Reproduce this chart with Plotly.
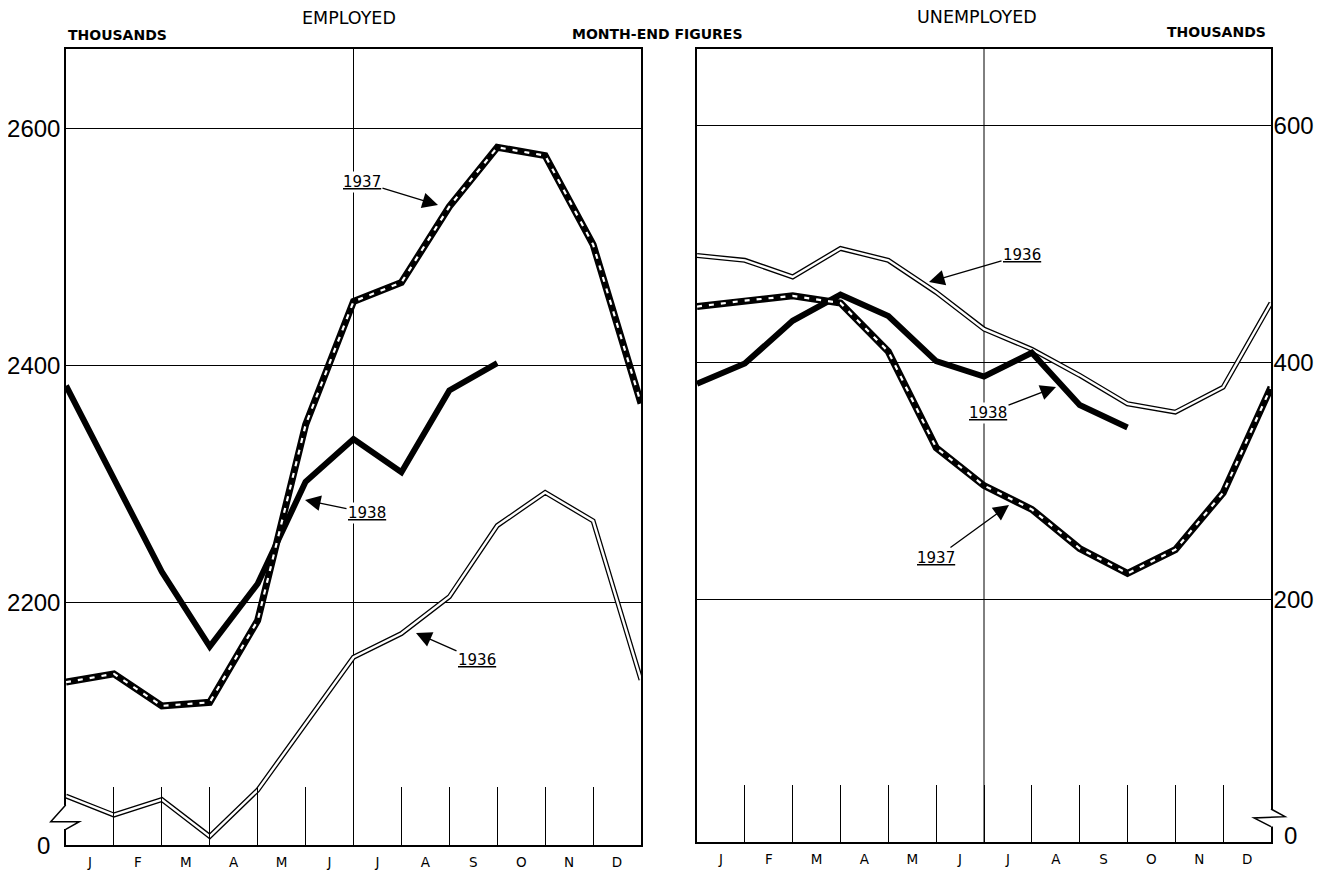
import plotly.graph_objects as go

# ---------------- data (month-end figures, thousands) ----------------
month_labels = ["J", "F", "M", "A", "M", "J", "J", "A", "S", "O", "N", "D"]
# index 0 = end of previous December, 1..12 = end of Jan..Dec
month_end_idx = list(range(13))

emp_1936 = [2037, 2021, 2034, 2003, 2042, 2098, 2154, 2174, 2205, 2265, 2293, 2269, 2135]
emp_1937 = [2133, 2140, 2113, 2116, 2185, 2350, 2454, 2470, 2534, 2584, 2577, 2502, 2368]
emp_1938 = [2383, 2305, 2226, 2163, 2216, 2302, 2338, 2310, 2379, 2402]

unemp_1936 = [490, 486, 472, 496, 486, 459, 428, 411, 389, 365, 358, 379, 450]
unemp_1937 = [447, 452, 456, 450, 409, 328, 296, 276, 243, 222, 242, 290, 379]
unemp_1938 = [382, 399, 435, 457, 439, 401, 388, 408, 364, 345]

emp_ticks = [2200, 2400, 2600]
unemp_ticks = [200, 400, 600]

# ---------------- helpers ----------------
OFF = 8                      # page body margin
W, H = 1327 - OFF, 870 - OFF


def px(x):
    return (x - OFF) / W


def py(y):
    return 1 - (y - OFF) / H


NUMF = "Liberation Sans, Arial, sans-serif"
LETTER = "DejaVu Sans, Liberation Sans, sans-serif"

fig = go.Figure()


def add_1936(xa, ya, ys):
    xs = month_end_idx[:len(ys)]
    fig.add_trace(go.Scatter(x=xs, y=ys, xaxis=xa, yaxis=ya, mode="lines",
                             line=dict(color="black", width=5), hoverinfo="skip"))
    fig.add_trace(go.Scatter(x=xs, y=ys, xaxis=xa, yaxis=ya, mode="lines",
                             line=dict(color="white", width=2.4), hoverinfo="skip"))


def add_1937(xa, ya, ys):
    xs = month_end_idx[:len(ys)]
    fig.add_trace(go.Scatter(x=xs, y=ys, xaxis=xa, yaxis=ya, mode="lines",
                             line=dict(color="black", width=7), hoverinfo="skip"))
    fig.add_trace(go.Scatter(x=xs, y=ys, xaxis=xa, yaxis=ya, mode="lines",
                             line=dict(color="white", width=2.2, dash="5px,7px"),
                             hoverinfo="skip"))


def add_1938(xa, ya, ys):
    xs = month_end_idx[:len(ys)]
    fig.add_trace(go.Scatter(x=xs, y=ys, xaxis=xa, yaxis=ya, mode="lines",
                             line=dict(color="black", width=6), hoverinfo="skip"))


# left: employed
add_1936("x", "y", emp_1936)
add_1938("x", "y", emp_1938)
add_1937("x", "y", emp_1937)
# right: unemployed
add_1936("x2", "y2", unemp_1936)
add_1938("x2", "y2", unemp_1938)
add_1937("x2", "y2", unemp_1937)

month_centers = [i + 0.5 for i in range(12)]


def xaxis_cfg(domain, anchor, ticklen):
    return dict(domain=domain, anchor=anchor, range=[0, 12], fixedrange=True,
                tickmode="array", tickvals=month_centers, ticktext=month_labels,
                ticks="", showgrid=False, zeroline=False,
                showline=True, linecolor="black", linewidth=1.5, mirror=True,
                tickfont=dict(family=LETTER, size=13.5, color="black"),
                ticklabelstandoff=4,
                minor=dict(tickmode="array", tickvals=list(range(1, 12)),
                           ticks="inside", ticklen=ticklen, tickwidth=1,
                           tickcolor="black", showgrid=False),
                automargin=False)


def yaxis_cfg(domain, anchor, rng, tickvals, side, standoff):
    return dict(domain=domain, anchor=anchor, range=rng, fixedrange=True,
                tickmode="array", tickvals=tickvals,
                ticktext=[str(v) for v in tickvals], side=side,
                ticks="", showgrid=True, gridcolor="black", gridwidth=1,
                zeroline=False, showline=True, linecolor="black", linewidth=1.5,
                mirror=True, tickfont=dict(family=NUMF, size=24, color="black"),
                ticklabelstandoff=standoff, automargin=False)


fig.update_layout(
    width=W, height=H,
    margin=dict(l=0, r=0, t=0, b=0),
    paper_bgcolor="white", plot_bgcolor="white",
    showlegend=False,
    xaxis=xaxis_cfg([px(66), px(641)], "y", 58),
    yaxis=yaxis_cfg([py(845), py(48.5)], "x", [1995.7, 2667.3], emp_ticks, "left", -1),
    xaxis2=xaxis_cfg([px(697), px(1271)], "y2", 57),
    yaxis2=yaxis_cfg([py(842), py(48.5)], "x2", [-4.5, 664.6], unemp_ticks, "right", -4),
)

# centre (mid-year) vertical rules
for xr, yr in (("x", "y domain"), ("x2", "y2 domain")):
    fig.add_shape(type="line", xref=xr, yref=yr, x0=6, x1=6, y0=0, y1=1,
                  line=dict(color="black", width=1), layer="below")

# axis-break symbols
fig.add_shape(type="rect", xref="paper", yref="paper",
              x0=px(63.5), x1=px(68), y0=py(829), y1=py(805.5),
              fillcolor="white", line=dict(width=0), layer="above")
fig.add_shape(type="path", xref="paper", yref="paper",
              path=(f"M {px(65.7)},{py(805)} L {px(50.7)},{py(821.7)} "
                    f"L {px(79.3)},{py(821.7)} L {px(65.7)},{py(829.3)}"),
              line=dict(color="black", width=1.5), layer="above")
fig.add_shape(type="rect", xref="paper", yref="paper",
              x0=px(1268.8), x1=px(1273.5), y0=py(826.5), y1=py(809.5),
              fillcolor="white", line=dict(width=0), layer="above")
fig.add_shape(type="path", xref="paper", yref="paper",
              path=(f"M {px(1271)},{py(809)} L {px(1285)},{py(816.7)} "
                    f"L {px(1254)},{py(818)} L {px(1271)},{py(826.7)}"),
              line=dict(color="black", width=1.5), layer="above")

# zero labels at the broken axes
fig.add_annotation(text="0", xref="paper", yref="paper", x=px(43), y=py(845),
                   xanchor="center", yanchor="middle", showarrow=False,
                   font=dict(family=NUMF, size=24, color="black"))
fig.add_annotation(text="0", xref="paper", yref="paper", x=px(1290), y=py(835),
                   xanchor="center", yanchor="middle", showarrow=False,
                   font=dict(family=NUMF, size=24, color="black"))

# headings
heads = [
    ("EMPLOYED", 349, 18.5, "center", 17.5, "normal"),
    ("UNEMPLOYED", 977, 17, "center", 17.5, "normal"),
    ("THOUSANDS", 66, 35, "left", 14, "bold"),
    ("MONTH-END FIGURES", 657, 34, "center", 14, "bold"),
    ("THOUSANDS", 1268, 32, "right", 14, "bold"),
]
for txt, x, y, anc, size, weight in heads:
    fig.add_annotation(text=txt, xref="paper", yref="paper", x=px(x), y=py(y),
                       xanchor=anc, yanchor="middle", showarrow=False,
                       font=dict(family=LETTER, size=size, color="black", weight=weight))

# year labels with arrows (tip pixel, offset to label centre)
year_labels = [
    ("1937", 438, 205, -76, -23),
    ("1938", 305, 500, 62, 13),
    ("1936", 416, 633, 61, 27),
    ("1936", 929, 282, 93, -27),
    ("1938", 1056, 387, -68, 26),
    ("1937", 1009, 505, -73, 53),
]
for txt, tx, ty, ax, ay in year_labels:
    fig.add_annotation(text=txt, xref="paper", yref="paper", x=px(tx), y=py(ty),
                       ax=ax, ay=ay, showarrow=True, arrowhead=2, arrowsize=2.4,
                       arrowwidth=1.3, arrowcolor="black", standoff=0,
                       bgcolor="white", borderpad=1,
                       font=dict(family=LETTER, size=15, color="black",
                                 lineposition="under"))

fig.write_html("out.html")
